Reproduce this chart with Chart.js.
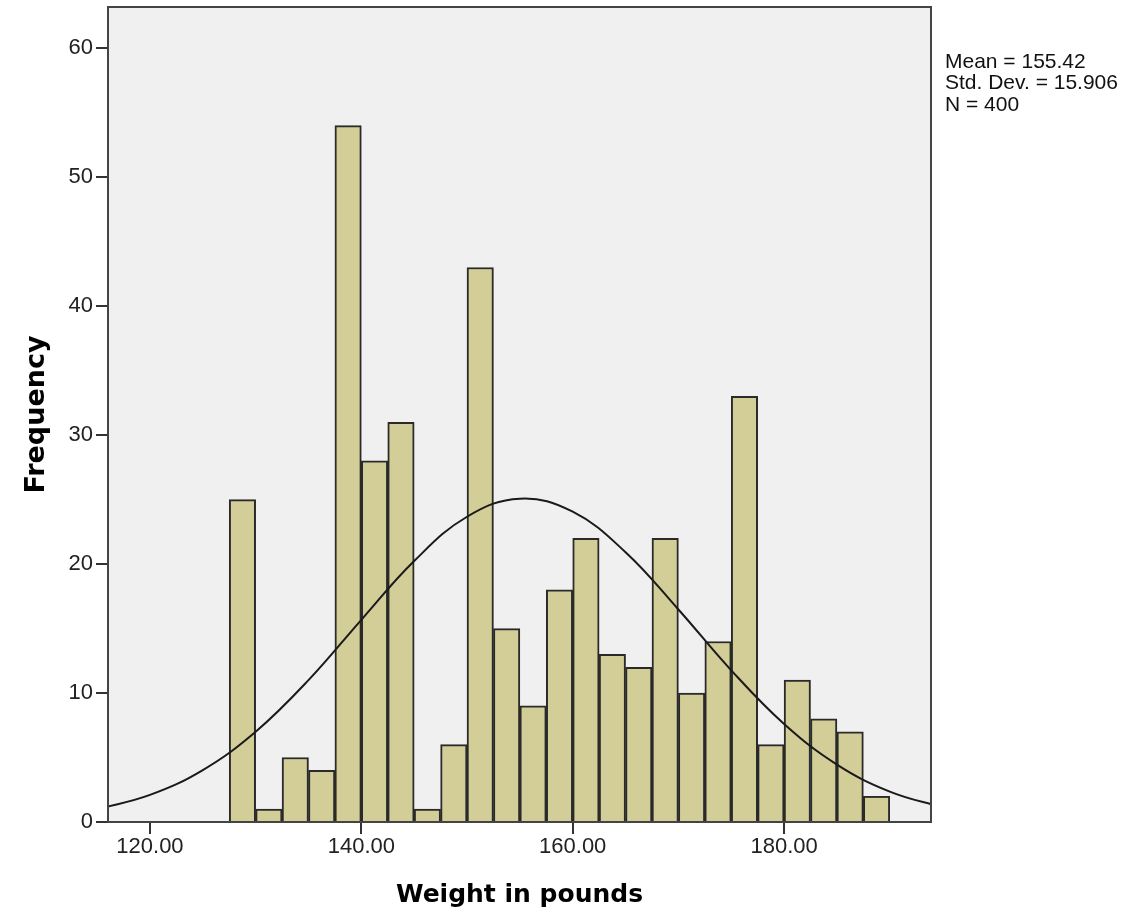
<!DOCTYPE html>
<html>
<head>
<meta charset="utf-8">
<script src="https://cdn.jsdelivr.net/npm/chart.js@4"></script>
<style>
  html, body { margin: 0; padding: 0; background: #fff; }
  #wrap { width: 1131px; height: 917px; }
</style>
</head>
<body>
<div id="wrap"><canvas id="myChart" width="1131" height="917"></canvas></div>
<script>
// histogram bins (centers, width 2.5) and counts
const binCenters = [128.75,131.25,133.75,136.25,138.75,141.25,143.75,146.25,148.75,151.25,
                    153.75,156.25,158.75,161.25,163.75,166.25,168.75,171.25,173.75,176.25,
                    178.75,181.25,183.75,186.25,188.75];
const counts = [25,1,5,4,54,28,31,1,6,43,15,9,18,22,13,12,22,10,14,33,6,11,8,7,2];

// normal curve
const curveX = [115,120,125,130,135,140,145,150,155,160,165,170,175,180,185,190,195];
const curveY = [0.99,2.10,4.03,7.00,11.00,15.68,20.24,23.67,25.07,24.06,20.92,16.48,11.76,7.60,4.45,2.36,1.13];

const xTicks = [120,140,160,180];
const yTicks = [0,10,20,30,40,50,60];
const statsText = ["Mean = 155.42","Std. Dev. = 15.906","N = 400"];

const plotBg = {
  id: 'plotBg',
  beforeDraw(chart){
    const {ctx, chartArea: a} = chart;
    ctx.save();
    ctx.fillStyle = '#f0f0f0';
    ctx.fillRect(a.left, a.top, a.right - a.left, a.bottom - a.top);
    ctx.restore();
  },
  afterDraw(chart){
    const {ctx, chartArea: a} = chart;
    ctx.save();
    ctx.strokeStyle = '#444';
    ctx.lineWidth = 2;
    ctx.strokeRect(a.left, a.top, a.right - a.left, a.bottom - a.top);
    ctx.fillStyle = '#111';
    ctx.font = '21px "Liberation Sans", Arial, sans-serif';
    ctx.textBaseline = 'middle';
    statsText.forEach((t, i) => ctx.fillText(t, a.right + 14, 62 + i * 21.5));
    ctx.restore();
  }
};

const tickFont = {family: '"Liberation Sans", Arial, sans-serif', size: 22};
const titleFont = {family: '"DejaVu Sans", Verdana, sans-serif', weight: 'bold'};

const config = {
  type: 'bar',
  data: {
    datasets: [
      {
        type: 'line',
        data: curveX.map((x, i) => ({x: x, y: curveY[i]})),
        borderColor: '#1a1a1a',
        borderWidth: 2,
        pointRadius: 0,
        tension: 0.4,
        fill: false,
        order: 0
      },
      {
        type: 'bar',
        data: binCenters.map((x, i) => ({x: x, y: counts[i]})),
        backgroundColor: '#d3ce97',
        borderColor: '#2a2a2a',
        borderWidth: 2,
        barPercentage: 1,
        categoryPercentage: 1,
        grouped: false,
        order: 1
      }
    ]
  },
  options: {
    responsive: false,
    animation: false,
    layout: {padding: {top: 7, right: 200, left: 0, bottom: 0}},
    plugins: {legend: {display: false}, tooltip: {enabled: false}},
    scales: {
      x: {
        type: 'linear',
        offset: false,
        min: 116.03,
        max: 193.9,
        afterBuildTicks: s => { s.ticks = xTicks.map(v => ({value: v})); },
        afterFit: s => { s.height = 95; s.paddingLeft = 0; s.paddingRight = 0; },
        ticks: {
          font: tickFont, color: '#222', padding: 0, maxRotation: 0,
          callback: v => v.toFixed(2)
        },
        grid: {offset: false, drawOnChartArea: false, drawTicks: true, tickLength: 12, color: '#333', lineWidth: 2},
        border: {display: true, color: '#333', width: 2},
        title: {display: true, text: 'Weight in pounds', font: {...titleFont, size: 25}, color: '#000', padding: {top: 0, bottom: 7}}
      },
      y: {
        type: 'linear',
        min: 0,
        max: 63.2,
        afterBuildTicks: s => { s.ticks = yTicks.map(v => ({value: v})); },
        afterFit: s => { s.width = 108; s.paddingTop = 0; s.paddingBottom = 0; },
        ticks: {font: tickFont, color: '#222', padding: 3},
        grid: {drawOnChartArea: false, drawTicks: true, tickLength: 12, color: '#333', lineWidth: 2},
        border: {display: true, color: '#333', width: 2},
        title: {display: true, text: 'Frequency', font: {...titleFont, size: 27}, color: '#000', padding: {top: 21, bottom: 0}}
      }
    }
  },
  plugins: [plotBg]
};

new Chart(document.getElementById('myChart').getContext('2d'), config);
</script>
</body>
</html>
